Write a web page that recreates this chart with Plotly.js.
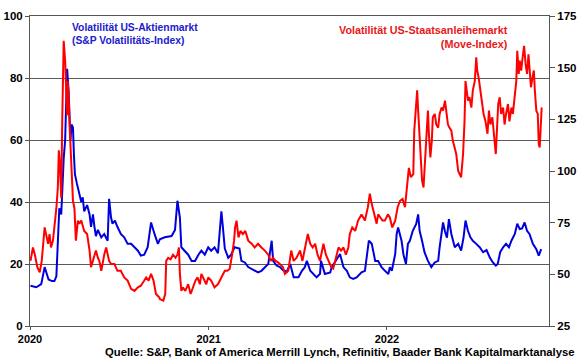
<!DOCTYPE html>
<html>
<head>
<meta charset="utf-8">
<script src="https://cdn.plot.ly/plotly-3.0.1.min.js"></script>
<style>html,body{margin:0;padding:0;background:#fff;}#chart{width:580px;height:359px;}</style>
</head>
<body>
<div id="chart"></div>
<script>
// VIX (left axis)
const vixDates = ["2020-01-02","2020-01-14","2020-01-24","2020-01-31","2020-02-03","2020-02-08","2020-02-15","2020-02-20","2020-02-24","2020-02-27","2020-03-01","2020-03-05","2020-03-07","2020-03-10","2020-03-13","2020-03-17","2020-03-20","2020-03-22","2020-03-24","2020-03-26","2020-03-29","2020-03-31","2020-04-02","2020-04-06","2020-04-11","2020-04-15","2020-04-18","2020-04-21","2020-04-27","2020-05-02","2020-05-05","2020-05-09","2020-05-12","2020-05-15","2020-05-19","2020-05-26","2020-06-01","2020-06-08","2020-06-11","2020-06-15","2020-06-18","2020-06-23","2020-06-28","2020-07-05","2020-07-12","2020-07-19","2020-07-26","2020-08-02","2020-08-09","2020-08-15","2020-08-22","2020-08-29","2020-09-05","2020-09-12","2020-09-19","2020-09-23","2020-10-03","2020-10-17","2020-10-24","2020-10-29","2020-11-03","2020-11-06","2020-11-13","2020-11-20","2020-11-27","2020-12-04","2020-12-11","2020-12-17","2020-12-24","2020-12-31","2021-01-06","2021-01-13","2021-01-20","2021-01-27","2021-01-30","2021-02-03","2021-02-10","2021-02-16","2021-02-23","2021-03-05","2021-03-09","2021-03-16","2021-03-23","2021-03-30","2021-04-05","2021-04-12","2021-04-19","2021-04-26","2021-05-03","2021-05-10","2021-05-13","2021-05-20","2021-05-27","2021-06-02","2021-06-10","2021-06-17","2021-06-24","2021-07-04","2021-07-11","2021-07-17","2021-07-21","2021-07-28","2021-08-03","2021-08-10","2021-08-17","2021-08-19","2021-08-27","2021-09-07","2021-09-10","2021-09-20","2021-09-27","2021-10-04","2021-10-11","2021-10-17","2021-10-24","2021-10-31","2021-11-10","2021-11-17","2021-11-25","2021-12-01","2021-12-08","2021-12-14","2021-12-21","2021-12-28","2022-01-04","2022-01-07","2022-01-11","2022-01-18","2022-01-21","2022-01-24","2022-01-31","2022-02-04","2022-02-09","2022-02-13","2022-02-17","2022-02-23","2022-03-02","2022-03-06","2022-03-09","2022-03-14","2022-03-19","2022-03-26","2022-04-02","2022-04-09","2022-04-16","2022-04-19","2022-04-23","2022-04-26","2022-04-30","2022-05-04","2022-05-08","2022-05-13","2022-05-20","2022-05-27","2022-06-02","2022-06-07","2022-06-11","2022-06-16","2022-06-21","2022-06-26","2022-07-03","2022-07-10","2022-07-17","2022-07-24","2022-07-31","2022-08-06","2022-08-12","2022-08-16","2022-08-21","2022-08-27","2022-09-02","2022-09-08","2022-09-13","2022-09-20","2022-09-25","2022-09-30","2022-10-05","2022-10-10","2022-10-15","2022-10-20","2022-10-27","2022-11-03","2022-11-08","2022-11-13"];
const vixValues = [13,12.5,13.5,19,17.5,15,14.5,14.5,16,30.7,38,36,45,54,60,83,76,68,60,65,64,55,49,46,43,40,41.5,37,39,36,32,36,32,29,31,28.6,29.7,27.5,41,35,33,34,32,29.7,28.6,26.5,26.5,25.4,24.3,22.7,23,25.4,33.4,29.7,26.5,28,28.6,29,31,40.4,35,25.4,24.3,23,21,21,23,24.3,23,25.4,24.3,25.4,23.5,37,32,25,22,23,25.4,25,21,20.5,19,18.4,17.8,17.3,17.8,19,20,27.5,21,19.5,19,18,17.5,20,15.7,15.7,17.8,19,21,17.8,16.8,15.7,16.8,21,16.8,17.3,19,21.6,23.2,19,17.8,15.7,15.2,15.7,17.3,17.8,27.5,26.5,21,21,19,17.8,16.8,19,17.8,23.2,29.7,31.8,27.5,23,20,26.5,27.5,30.7,32.9,36,30.7,27.5,23.8,21,19,20.5,21,25.4,29.7,33.4,30.5,28.5,34.5,29.7,25.4,26.5,24.3,28.6,34,30.7,28.6,27.5,26.5,25.4,23.8,24.5,22,20.5,19.5,20,23.8,25.4,26.5,25.4,27.5,29.7,33,31.3,31.5,33.4,30.7,29.7,26.5,24.8,22.7,24.8];

// MOVE (right axis)
const moveDates = ["2020-01-02","2020-01-07","2020-01-11","2020-01-16","2020-01-21","2020-01-25","2020-01-31","2020-02-03","2020-02-07","2020-02-10","2020-02-13","2020-02-17","2020-02-20","2020-02-24","2020-02-27","2020-02-29","2020-03-02","2020-03-05","2020-03-07","2020-03-09","2020-03-10","2020-03-13","2020-03-15","2020-03-17","2020-03-18","2020-03-20","2020-03-22","2020-03-25","2020-03-27","2020-03-29","2020-04-01","2020-04-04","2020-04-08","2020-04-11","2020-04-15","2020-04-18","2020-04-21","2020-04-27","2020-05-02","2020-05-05","2020-05-09","2020-05-12","2020-05-15","2020-05-19","2020-05-22","2020-05-26","2020-05-29","2020-06-01","2020-06-05","2020-06-08","2020-06-11","2020-06-15","2020-06-22","2020-06-28","2020-07-05","2020-07-12","2020-07-19","2020-07-26","2020-08-02","2020-08-09","2020-08-15","2020-08-22","2020-08-26","2020-08-31","2020-09-05","2020-09-10","2020-09-15","2020-09-22","2020-09-23","2020-09-30","2020-10-04","2020-10-06","2020-10-10","2020-10-15","2020-10-20","2020-10-25","2020-10-29","2020-11-01","2020-11-03","2020-11-06","2020-11-09","2020-11-14","2020-11-20","2020-11-25","2020-11-30","2020-12-05","2020-12-09","2020-12-14","2020-12-17","2020-12-23","2020-12-27","2020-12-31","2021-01-06","2021-01-13","2021-01-20","2021-01-27","2021-02-03","2021-02-08","2021-02-13","2021-02-18","2021-02-22","2021-02-24","2021-02-27","2021-03-03","2021-03-07","2021-03-12","2021-03-17","2021-03-23","2021-03-30","2021-04-05","2021-04-12","2021-04-19","2021-04-26","2021-05-03","2021-05-08","2021-05-13","2021-05-18","2021-05-23","2021-05-29","2021-06-02","2021-06-06","2021-06-13","2021-06-19","2021-06-24","2021-06-30","2021-07-07","2021-07-12","2021-07-17","2021-07-23","2021-07-28","2021-08-02","2021-08-07","2021-08-12","2021-08-17","2021-08-24","2021-08-29","2021-09-03","2021-09-09","2021-09-13","2021-09-18","2021-09-24","2021-09-29","2021-10-04","2021-10-09","2021-10-14","2021-10-17","2021-10-22","2021-10-28","2021-11-03","2021-11-10","2021-11-17","2021-11-23","2021-11-27","2021-12-01","2021-12-06","2021-12-11","2021-12-14","2021-12-19","2021-12-23","2021-12-28","2022-01-03","2022-01-07","2022-01-12","2022-01-18","2022-01-23","2022-01-28","2022-02-02","2022-02-07","2022-02-11","2022-02-15","2022-02-19","2022-02-24","2022-02-26","2022-03-01","2022-03-04","2022-03-06","2022-03-09","2022-03-12","2022-03-14","2022-03-17","2022-03-20","2022-03-23","2022-03-26","2022-03-28","2022-03-31","2022-04-03","2022-04-05","2022-04-09","2022-04-12","2022-04-16","2022-04-19","2022-04-23","2022-04-26","2022-04-30","2022-05-03","2022-05-06","2022-05-09","2022-05-13","2022-05-16","2022-05-20","2022-05-23","2022-05-27","2022-05-30","2022-06-02","2022-06-06","2022-06-09","2022-06-11","2022-06-14","2022-06-16","2022-06-19","2022-06-23","2022-06-26","2022-06-30","2022-07-03","2022-07-05","2022-07-08","2022-07-11","2022-07-15","2022-07-18","2022-07-22","2022-07-26","2022-07-29","2022-08-01","2022-08-05","2022-08-08","2022-08-12","2022-08-14","2022-08-17","2022-08-20","2022-08-23","2022-08-27","2022-08-30","2022-09-02","2022-09-06","2022-09-09","2022-09-13","2022-09-16","2022-09-20","2022-09-23","2022-09-25","2022-09-28","2022-09-30","2022-10-03","2022-10-06","2022-10-09","2022-10-12","2022-10-15","2022-10-18","2022-10-20","2022-10-23","2022-10-26","2022-10-29","2022-10-31","2022-11-03","2022-11-06","2022-11-08","2022-11-10","2022-11-12","2022-11-14"];
const moveValues = [56.5,63,59.5,53.5,51,56.5,72.7,69.5,64.8,69.5,63,66.3,72.7,82,92,110,104.5,87,124,143.5,163,153.4,140.5,127,143.5,137.5,122.5,106,95.5,85.6,82,66.3,76,74.5,76,72.7,71,69.5,61.5,53.5,56.5,59.5,61.5,58,56.5,51.7,56.5,59.5,63,59.5,56.5,55,55,51.7,51.7,48.5,47,43,42,43.7,44.5,47,48.5,47,50.2,47,40.5,38.8,38,37.3,40.5,56.5,58,57.3,59.5,58,59.5,63,50.2,42,43.7,42,45.2,40.5,43.7,47,48.5,45.2,50.2,47,45.2,48.5,47,43.7,45.2,48.5,51.7,51.7,52.6,59.5,66.3,72.7,76,67.9,71,69.5,71,66.3,64.8,63,64.8,63,61.5,59.5,56.5,58,56.5,55.8,54.3,53.5,50.2,51.7,61.5,56.5,58,61.5,56.5,63,69.5,64.8,63,64.8,59.5,56.5,64.8,59.5,56.5,53.5,52.8,58,63,61.5,63,59.5,63,69.5,72.7,71,76,79,76,82.5,89,84,79,74.5,79,77.5,76,76,79,77.5,72.7,76,82.5,85.6,86.5,82.5,93.7,101.5,97,98.5,119.5,130.7,139,129.2,114.7,105,95.3,92,105,121,129.2,118,106.6,114.7,126,127.6,122.5,121,127.6,130.7,129.2,134,127.6,122.5,121,119.5,114.7,111.4,108.2,100,98.5,97,108.2,124,143.5,137.5,134,135.7,130.7,139,143.5,155,148.6,145,139,130.7,127.6,124,118,129.2,122.5,126,116.5,108.2,118,132.4,135.7,127.6,130.7,122.5,127.6,132.4,124,130.7,127.6,137.5,143.5,158.2,147,153.4,148.6,155,160.6,151.8,147,156.5,150,140.5,145,148.6,139,129.2,127.6,113,111.4,122.5,130.7];

const leftTicks = [0,20,40,60,80,100];
const rightTicks = [25,50,75,100,125,150,175];
const yearTicks = ["2020-01-01","2021-01-01","2022-01-01"];
const yearLabels = ["2020","2021","2022"];

const FONT = "Arial, 'Liberation Sans', sans-serif";

const traces = [
  {x: moveDates, y: moveValues, type: "scatter", mode: "lines", yaxis: "y2",
   line: {color: "#FF0000", width: 2}, hoverinfo: "skip"},
  {x: vixDates, y: vixValues, type: "scatter", mode: "lines", yaxis: "y",
   line: {color: "#0000DD", width: 2}, hoverinfo: "skip"}
];

const layout = {
  width: 580, height: 359,
  margin: {l: 30, r: 31, t: 16, b: 33, pad: 0},
  paper_bgcolor: "#ffffff", plot_bgcolor: "#ffffff",
  showlegend: false,
  font: {family: FONT, size: 11, color: "#000"},
  xaxis: {
    type: "date", range: ["2020-01-01", "2022-11-29"],
    tickvals: yearTicks, ticktext: yearLabels,
    ticks: "outside", ticklen: 3, tickcolor: "#555",
    showgrid: false, zeroline: false,
    showline: true, linecolor: "#555", linewidth: 1, mirror: true,
    tickfont: {family: FONT, size: 11, color: "#000", weight: "bold"}
  },
  yaxis: {
    range: [0, 100], tickvals: leftTicks,
    ticks: "outside", ticklen: 4, tickcolor: "#555",
    showgrid: true, gridcolor: "#5a5a5a", gridwidth: 1,
    zeroline: false, showline: true, linecolor: "#555", linewidth: 1,
    tickfont: {family: FONT, size: 11.5, color: "#000", weight: "bold"}
  },
  yaxis2: {
    range: [25, 175], tickvals: rightTicks, overlaying: "y", side: "right",
    ticks: "outside", ticklen: 5, tickcolor: "#555",
    showgrid: false, zeroline: false, showline: true, linecolor: "#555", linewidth: 1,
    tickfont: {family: FONT, size: 11.5, color: "#000", weight: "bold"}
  },
  annotations: [
    {xref: "paper", yref: "paper", x: 0.078, y: 0.988, xanchor: "left", yanchor: "top", align: "left",
     showarrow: false, text: "<b>Volatilität US-Aktienmarkt<br>(S&P Volatilitäts-Index)</b>",
     font: {family: FONT, size: 10.3, color: "#2020CC"}},
    {xref: "paper", yref: "paper", x: 0.925, y: 0.982, xanchor: "right", yanchor: "top", align: "right",
     showarrow: false, text: "<b>Volatilität US-Staatsanleihemarkt<br>(Move-Index)</b>",
     font: {family: FONT, size: 10.8, color: "#E81818"}},
    {xref: "paper", yref: "paper", x: 1.054, y: -0.085, xanchor: "right", yanchor: "middle",
     showarrow: false, text: "<b>Quelle: S&P, Bank of America Merrill Lynch, Refinitiv, Baader Bank Kapitalmarktanalyse</b>",
     font: {family: FONT, size: 11.3, color: "#000"}}
  ]
};

Plotly.newPlot("chart", traces, layout, {displayModeBar: false, staticPlot: true});
</script>
</body>
</html>
